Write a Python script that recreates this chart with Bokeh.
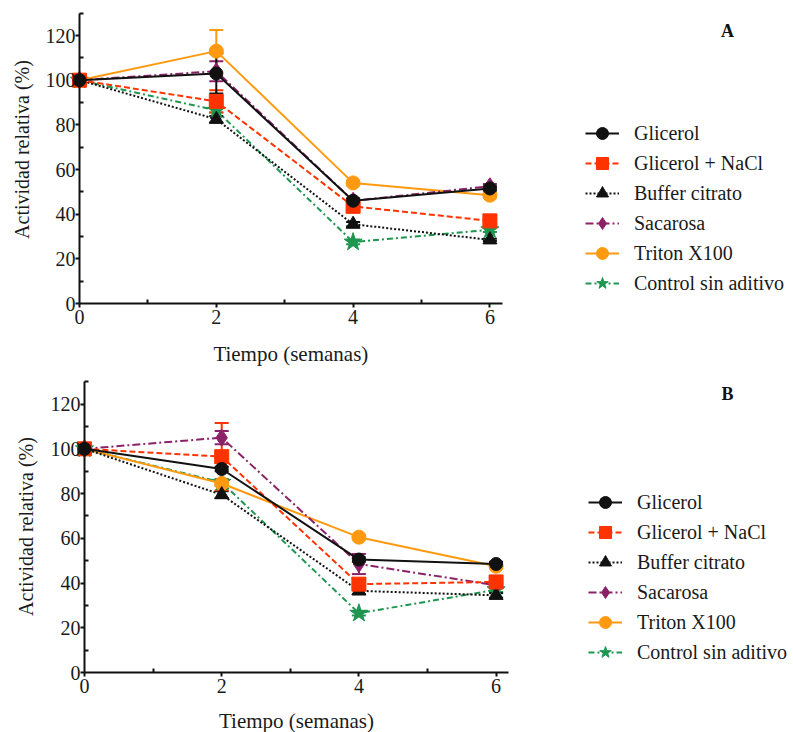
import math
from bokeh.plotting import figure
from bokeh.models import (ColumnDataSource, Whisker, TeeHead, Legend, LegendItem,
                          Label, Range1d, FixedTicker)
from bokeh.layouts import column
from bokeh.embed import file_html
from bokeh.resources import INLINE

weeks = [0, 2, 4, 6]
series_names = ["Glicerol", "Glicerol + NaCl", "Buffer citrato", "Sacarosa",
                "Triton X100", "Control sin aditivo"]

# Panel A
a_glicerol = [100, 103, 46, 51.5]
a_nacl = [100, 90.5, 43.5, 37]
a_buffer = [100, 82.5, 35.5, 28.5]
a_sacarosa = [100, 104, 46, 52.5]
a_triton = [100, 113, 54, 48.5]
a_control = [100, 86.5, 27.5, 33]
a_glicerol_err = [0, 9, 1, 1]
a_nacl_err = [0, 5, 1.5, 1]
a_buffer_err = [0, 1.5, 1, 0.5]
a_sacarosa_err = [0, 4.5, 1, 1]
a_triton_err = [0, 9.5, 1, 1]
a_control_err = [0, 1, 1, 1]

# Panel B
b_glicerol = [100, 91, 50.5, 48.5]
b_nacl = [100, 96.5, 39.5, 40.5]
b_buffer = [100, 79.5, 36.5, 34.5]
b_sacarosa = [100, 105, 48.5, 39]
b_triton = [100, 84.5, 60.5, 47.5]
b_control = [100, 85, 26.5, 37]
b_glicerol_err = [0, 1, 1, 1]
b_nacl_err = [0, 15, 2, 1]
b_buffer_err = [0, 1.5, 1.5, 1]
b_sacarosa_err = [0, 3, 4.5, 1]
b_triton_err = [0, 1, 1, 1]
b_control_err = [0, 1.5, 1, 1]

x_ticks = [0, 2, 4, 6]
x_minor = [1, 3, 5]
x_axis_end = 6.18
y_ticks = [0, 20, 40, 60, 80, 100, 120]
y_minor = [10, 30, 50, 70, 90, 110, 130]
y_axis_end = 130
x_title = "Tiempo (semanas)"
y_title = "Actividad relativa (%)"

styles = [
    dict(color="#111111", dash="solid", marker="circle", size=13),
    dict(color="#FF3300", dash="6 3", marker="square", size=14),
    dict(color="#111111", dash="2 2", marker="triangle", size=14),
    dict(color="#8B2268", dash="8 3 2 3", marker="diamond", size=17),
    dict(color="#FF9A10", dash="solid", marker="circle", size=14),
    dict(color="#1E9650", dash="6 3 2 3", marker="star", size=19),
]

SERIF = "Liberation Serif"
FIG_W = 793


def make_panel(values, errors, letter, fig_h, x0_px, ppu_x, y0_px, ppu_y,
               legend_xy, letter_xy, xtitle_y, ytitle_xy):
    # the frame fills the whole figure; axes sit at fixed data locations
    p = figure(frame_width=FIG_W, frame_height=fig_h,
               x_range=Range1d(-x0_px / ppu_x, (FIG_W - x0_px) / ppu_x),
               y_range=Range1d(-(fig_h - y0_px) / ppu_y, y0_px / ppu_y),
               output_backend="svg", toolbar_location=None,
               min_border_left=0, min_border_right=0,
               min_border_top=0, min_border_bottom=0)
    p.outline_line_color = None
    p.xgrid.visible = False
    p.ygrid.visible = False

    for ax, ticks, minor in ((p.xaxis[0], x_ticks, x_minor),
                             (p.yaxis[0], y_ticks, y_minor)):
        ax.ticker = FixedTicker(ticks=ticks, minor_ticks=minor)
        ax.fixed_location = 0
        ax.axis_line_width = 2
        ax.axis_line_color = "#111111"
        ax.major_tick_line_width = 2
        ax.minor_tick_line_width = 2
        ax.major_tick_line_color = "#111111"
        ax.minor_tick_line_color = "#111111"
        ax.major_tick_in = 0
        ax.major_tick_out = 4
        ax.minor_tick_in = 4
        ax.minor_tick_out = 0
        ax.major_label_text_font = SERIF
        ax.major_label_text_font_size = "20px"
        ax.major_label_text_color = "#1a1a1a"
    p.xaxis.bounds = (0, x_axis_end)
    p.yaxis.bounds = (0, y_axis_end)
    p.xaxis.major_label_standoff = 2
    p.yaxis.major_label_standoff = 0

    p.add_layout(Label(x=x_axis_end / 2, y=xtitle_y, y_units="screen", text=x_title,
                       text_font=SERIF, text_font_size="21px", text_color="#1a1a1a",
                       text_align="center", text_baseline="middle"))
    p.add_layout(Label(x=ytitle_xy[0], y=ytitle_xy[1], x_units="screen",
                       y_units="screen", text=y_title, angle=math.pi / 2,
                       text_font=SERIF, text_font_size="20px", text_color="#1a1a1a",
                       text_align="center", text_baseline="middle"))

    rend = {}
    for i in list(range(len(values)))[::-1]:
        st = styles[i]
        y = values[i]
        e = errors[i]
        src = ColumnDataSource(dict(x=weeks, y=y,
                                    upper=[v + d for v, d in zip(y, e)],
                                    lower=[v - d for v, d in zip(y, e)]))
        ln = p.line("x", "y", source=src, line_color=st["color"], line_width=2,
                    line_dash=st["dash"])
        w = Whisker(base="x", upper="upper", lower="lower", source=src,
                    line_color=st["color"], line_width=2,
                    upper_head=TeeHead(size=14, line_color=st["color"], line_width=2),
                    lower_head=TeeHead(size=14, line_color=st["color"], line_width=2))
        p.add_layout(w)
        sc = p.scatter("x", "y", source=src, marker=st["marker"], size=st["size"],
                       fill_color=st["color"], line_color=st["color"])
        rend[i] = [ln, sc]

    items = [LegendItem(label=series_names[i], renderers=rend[i])
             for i in range(len(values))]
    leg = Legend(items=items, location=legend_xy)
    leg.label_text_font = SERIF
    leg.label_text_font_size = "20px"
    leg.label_text_color = "#1a1a1a"
    leg.glyph_width = 34
    leg.glyph_height = 30
    leg.label_height = 24
    leg.label_standoff = 15
    leg.spacing = 0
    leg.padding = 0
    leg.margin = 0
    leg.border_line_color = None
    leg.background_fill_alpha = 0
    p.add_layout(leg)

    p.add_layout(Label(x=letter_xy[0], y=letter_xy[1], x_units="screen",
                       y_units="screen", text=letter, text_font=SERIF,
                       text_font_size="18px", text_font_style="bold",
                       text_align="center", text_baseline="middle",
                       text_color="#111111"))
    return p


pa = make_panel([a_glicerol, a_nacl, a_buffer, a_sacarosa, a_triton, a_control],
                [a_glicerol_err, a_nacl_err, a_buffer_err, a_sacarosa_err,
                 a_triton_err, a_control_err],
                "A", fig_h=372, x0_px=79, ppu_x=68.4, y0_px=303, ppu_y=2.2333,
                legend_xy=(585, 74), letter_xy=(727, 342), xtitle_y=19,
                ytitle_xy=(21, 223))
pb = make_panel([b_glicerol, b_nacl, b_buffer, b_sacarosa, b_triton, b_control],
                [b_glicerol_err, b_nacl_err, b_buffer_err, b_sacarosa_err,
                 b_triton_err, b_control_err],
                "B", fig_h=360, x0_px=84, ppu_x=68.6, y0_px=300, ppu_y=2.2367,
                legend_xy=(588, 65), letter_xy=(727, 339), xtitle_y=12,
                ytitle_xy=(25, 206))

layout = column(pa, pb)
open("out.html", "w").write(file_html(layout, INLINE))
